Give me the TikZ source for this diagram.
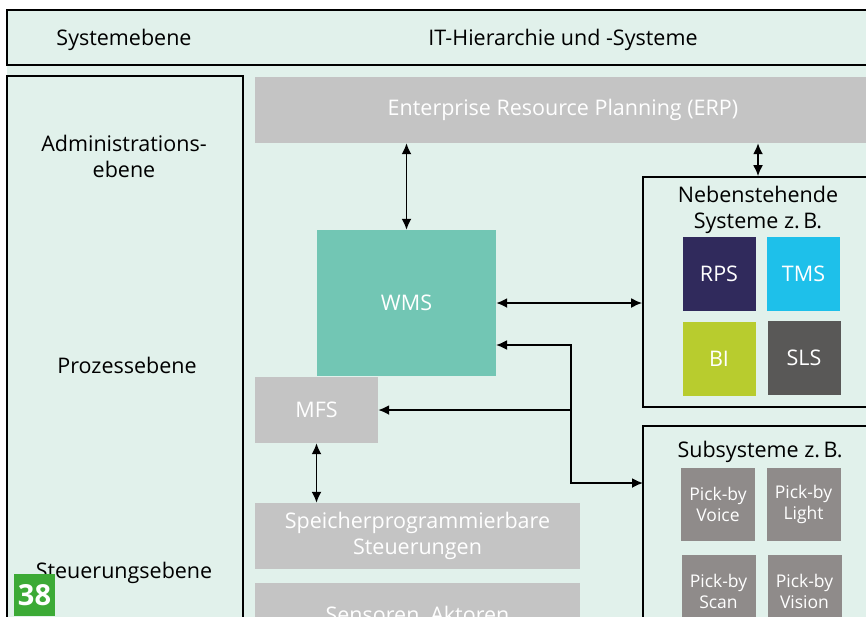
\documentclass[tikz,border=0pt]{standalone}
\usepackage{fontspec}
\setmainfont{Open Sans}
\usetikzlibrary{arrows.meta}

\definecolor{mint}{HTML}{E1F1EB}
\definecolor{boxgray}{HTML}{C4C4C4}
\definecolor{wmsteal}{HTML}{72C6B4}
\definecolor{rpsnavy}{HTML}{302A5C}
\definecolor{tmscyan}{HTML}{1EC0EA}
\definecolor{bilime}{HTML}{B8CC2E}
\definecolor{slsgray}{HTML}{595857}
\definecolor{pickgray}{HTML}{8F8B8A}
\definecolor{badgegreen}{HTML}{3CAA36}

\begin{document}
\begin{tikzpicture}[
            x=1pt, y=-1pt,
            >={Latex[length=11pt,width=10pt]},
            frame/.style={rectangle, draw=black, line width=1.7pt, inner sep=0pt},
            label/.style={font=\fontsize{21.5}{26}\selectfont, align=center, text=black},
            graybox/.style={rectangle, fill=boxgray, inner sep=0pt, text=white, align=center, font=\fontsize{21.5}{26}\selectfont},
            sysbox/.style={rectangle, inner sep=0pt, text=white, align=center, minimum width=73pt, minimum height=74pt, font=\fontsize{21.5}{26}\selectfont},
            pickbox/.style={rectangle, fill=pickgray, inner sep=0pt, text=white, align=center, minimum width=74pt, minimum height=73pt, font=\fontsize{17.5}{21}\selectfont},
            link/.style={line width=1.8pt, <->},
        ]
            \useasboundingbox (0,0) rectangle (866,616);
            \clip (0,0) rectangle (866,616);
            \fill[mint] (7,10) rectangle (880,630);

            %Frames
            \node[frame, minimum width=873pt, minimum height=55pt] (header) at (443.5,37.5) {};
            \node[frame, minimum width=236pt, minimum height=560pt] (levels) at (125,356) {};
            \node[frame, minimum width=230pt, minimum height=230pt] (neben) at (758,292) {};
            \node[frame, minimum width=230pt, minimum height=204pt] (sub) at (758,528) {};

            %Labels
            \node[label] (syslevel) at (124,40) {Systemebene};
            \node[label] (ithier) at (563,40) {IT-Hierarchie und -Systeme};
            \node[label] (admin) at (124,156) {Administrations-\\ebene};
            \node[label] (process) at (127,365) {Prozessebene};
            \node[label] (control) at (124,573) {Steuerungsebene};
            \node[label] (nebentitle) at (758,210) {Nebenstehende\\Systeme z.\,B.};
            \node[label] (subtitle) at (760,452) {Subsysteme z.\,B.};

            %Systems
            \node[graybox, minimum width=616pt, minimum height=66pt] (erp) at (563,110) {Enterprise Resource Planning (ERP)};
            \node[graybox, fill=wmsteal, minimum width=179pt, minimum height=146pt] (wms) at (406.5,303) {WMS};
            \node[graybox, minimum width=123pt, minimum height=66pt] (mfs) at (316.5,410) {MFS};
            \node[graybox, minimum width=325pt, minimum height=66pt] (sps) at (417.5,536) {Speicherprogrammierbare\\Steuerungen};
            \node[graybox, minimum width=325pt, minimum height=66pt] (sensors) at (417.5,616) {Sensoren, Aktoren};

            \node[sysbox, fill=rpsnavy] (rps) at (719,274) {RPS};
            \node[sysbox, fill=tmscyan] (tms) at (803.5,274) {TMS};
            \node[sysbox, fill=bilime] (bi) at (719,358.5) {BI};
            \node[sysbox, fill=slsgray] (sls) at (804,357.5) {SLS};

            \node[pickbox] (voice) at (718,504.5) {Pick-by\\Voice};
            \node[pickbox] (light) at (803.5,504.5) {Pick-by\\Light};
            \node[pickbox] (scan) at (718.5,591.5) {Pick-by\\Scan};
            \node[pickbox] (vision) at (804.5,591.5) {Pick-by\\Vision};

            \node[rectangle, fill=badgegreen, text=white, inner sep=0pt, minimum width=41pt, minimum height=42pt, font=\fontsize{29}{29}\selectfont\bfseries] (badge) at (34.5,595) {38};

            %Lines
            \coordinate (wmsin) at (496,345);
            \coordinate (junc) at (571,410);
            \coordinate (subin) at (643,483);
            \draw[link] (wms.north) -- (wms.north |- erp.south);
            \draw[link] (erp.south -| neben.north) -- (neben.north);
            \draw[link] (wms.east) -- (wms.east -| neben.west);
            \draw[link] (wmsin) -| (junc) |- (subin);
            \draw[line width=1.8pt, ->] (junc) -- (mfs.east);
            \draw[link] (mfs.south) -- (mfs.south |- sps.north);
        \end{tikzpicture}
\end{document}
